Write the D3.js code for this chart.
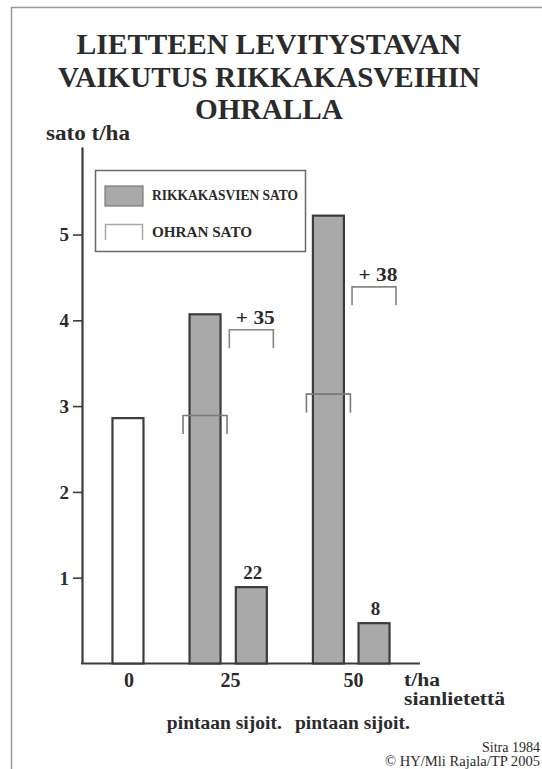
<!DOCTYPE html>
<html><head><meta charset="utf-8">
<script src="https://cdn.jsdelivr.net/npm/d3@7"></script>
<style>
html,body{margin:0;padding:0;background:#fff;}
svg{display:block;}
svg text{font-family:'Liberation Serif','Times New Roman',Tinos,Times,'DejaVu Serif',serif;fill:#2b2b2b;}
</style></head>
<body>
<svg id="c" width="542" height="769"></svg>
<script>
// ---- data ----
const titleLines = ["LIETTEEN LEVITYSTAVAN", "VAIKUTUS RIKKAKASVEIHIN", "OHRALLA"];
const categories = ["0", "25", "50"];
const methodLabels = ["", "pintaan sijoit.", "pintaan sijoit."];
const barleyYield = [2.86, 2.89, 3.14];      // ohran sato (white bar / outline)
const weedYieldA = [null, 4.07, 5.22];       // tall grey bars
const weedYieldB = [null, 0.89, 0.47];       // short grey bars
const weedLabelsB = ["", "22", "8"];
const increaseLevel = [null, 3.89, 4.39];
const increaseLabels = ["", "+ 35", "+ 38"];
const yTicks = [1, 2, 3, 4, 5];
const legendItems = ["RIKKAKASVIEN SATO", "OHRAN SATO"];

// ---- layout ----
const FF = "'Liberation Serif','Times New Roman',Tinos,Times,serif";
const svg = d3.select("#c");
const W = 542, H = 769;
const y = d3.scaleLinear().domain([0, 6.02]).range([663.5, 147]);
const x = d3.scaleLinear().domain([0, 1]).range([82, 420]);
const barW = 31, brW = 44, legLen = 18.5;
const pos = { // fractional x positions of bar centres / group labels
  white: [0.136, null, null],
  tallA: [null, 0.364, 0.729],
  shortB: [null, 0.501, 0.864],
  label: [0.139, 0.439, 0.803]
};
const dark = "#3c3c3c", grey = "#a9a9a9", bracket = "#858585";

function txt(xv, yv, s, size, bold) {
  return svg.append("text").attr("x", xv).attr("y", yv).attr("font-family", FF)
    .attr("font-size", size).attr("font-weight", bold ? "bold" : "normal").text(s);
}

// frame
svg.append("line").attr("x1", 11).attr("x2", W).attr("y1", 7.5).attr("y2", 7.5)
  .attr("stroke", "#9a9a9a").attr("stroke-width", 1.5);
svg.append("line").attr("x1", 11.5).attr("x2", 11.5).attr("y1", 7).attr("y2", H)
  .attr("stroke", "#9a9a9a").attr("stroke-width", 1.5);

// title
const tBase = [54, 87, 119], tLen = [385, 422, 148];
titleLines.forEach((t, i) => {
  txt(269, tBase[i], t, 29, true).attr("text-anchor", "middle")
    .attr("textLength", tLen[i]).attr("lengthAdjust", "spacingAndGlyphs");
});

// y label
txt(46, 140, "sato t/ha", 20, true).attr("textLength", 84).attr("lengthAdjust", "spacingAndGlyphs");

// y axis
const ax = svg.append("g").attr("transform", `translate(${x(0)},0)`)
  .call(d3.axisLeft(y).tickValues(yTicks).tickSize(9).tickSizeOuter(0).tickFormat(d3.format("d")));
ax.select(".domain").attr("stroke", dark).attr("stroke-width", 2.2);
ax.selectAll(".tick line").attr("stroke", dark).attr("stroke-width", 1.6);
ax.selectAll(".tick text").attr("font-size", 19).attr("font-weight", "bold")
  .attr("font-family", FF).attr("fill", "#2b2b2b").attr("x", -13).attr("dy", "0.34em");

// baseline
svg.append("line").attr("x1", x(0) - 1).attr("x2", x(1)).attr("y1", y(0)).attr("y2", y(0))
  .attr("stroke", dark).attr("stroke-width", 2.2);

function bar(cx, v, fill) {
  svg.append("rect").attr("x", cx - barW / 2).attr("y", y(v)).attr("width", barW)
    .attr("height", y(0) - y(v)).attr("fill", fill).attr("stroke", dark).attr("stroke-width", 2.2);
}
function brk(cx, v, col) {
  const yy = y(v), l = cx - brW / 2, r = cx + brW / 2;
  svg.append("path").attr("d", `M${l},${yy + legLen}V${yy}H${r}V${yy + legLen}`)
    .attr("fill", "none").attr("stroke", col || bracket).attr("stroke-width", 1.6);
}

categories.forEach((c, i) => {
  if (pos.white[i] != null) bar(x(pos.white[i]), barleyYield[i], "#fff");
  if (weedYieldA[i] != null) {
    bar(x(pos.tallA[i]), weedYieldA[i], grey);
    brk(x(pos.tallA[i]), barleyYield[i], "#7a7a7a");
  }
  if (weedYieldB[i] != null) {
    const cx = x(pos.shortB[i]);
    bar(cx, weedYieldB[i], grey);
    txt(cx + 1.5, y(weedYieldB[i]) - 8, weedLabelsB[i], 19, true).attr("text-anchor", "middle");
    brk(cx, increaseLevel[i]);
    txt(cx + 4, y(increaseLevel[i]) - 6, increaseLabels[i], 19, true).attr("text-anchor", "middle")
      .attr("textLength", 39).attr("lengthAdjust", "spacingAndGlyphs");
  }
  txt(x(pos.label[i]), 687, c, 20, true).attr("text-anchor", "middle");
  if (methodLabels[i]) {
    txt(x(pos.label[i]) - (i === 1 ? 6 : 1), 729, methodLabels[i], 19, true).attr("text-anchor", "middle")
      .attr("textLength", 115).attr("lengthAdjust", "spacingAndGlyphs");
  }
});

// x unit label
txt(404, 686, "t/ha", 18, true).attr("textLength", 36).attr("lengthAdjust", "spacingAndGlyphs");
txt(404, 705, "sianlietettä", 18, true).attr("textLength", 101).attr("lengthAdjust", "spacingAndGlyphs");

// legend
svg.append("rect").attr("x", 95.5).attr("y", 170.5).attr("width", 210).attr("height", 81)
  .attr("fill", "#fff").attr("stroke", "#6a6a6a").attr("stroke-width", 1.5);
svg.append("rect").attr("x", 105).attr("y", 186).attr("width", 38).attr("height", 20)
  .attr("fill", grey).attr("stroke", "#7a7a7a").attr("stroke-width", 1.2);
svg.append("path").attr("d", "M105.5,240V224.5H142.5V240").attr("fill", "none")
  .attr("stroke", "#a8a8a8").attr("stroke-width", 1.5);
const legLens = [146, 100], legY = [200, 237];
legendItems.forEach((t, i) => {
  txt(152, legY[i], t, 15, true).attr("textLength", legLens[i]).attr("lengthAdjust", "spacingAndGlyphs");
});

// source
txt(540, 752, "Sitra 1984", 14, false).attr("text-anchor", "end");
txt(540, 766, "© HY/Mli Rajala/TP 2005", 14, false).attr("text-anchor", "end")
  .attr("textLength", 155).attr("lengthAdjust", "spacingAndGlyphs");
</script>
</body></html>
